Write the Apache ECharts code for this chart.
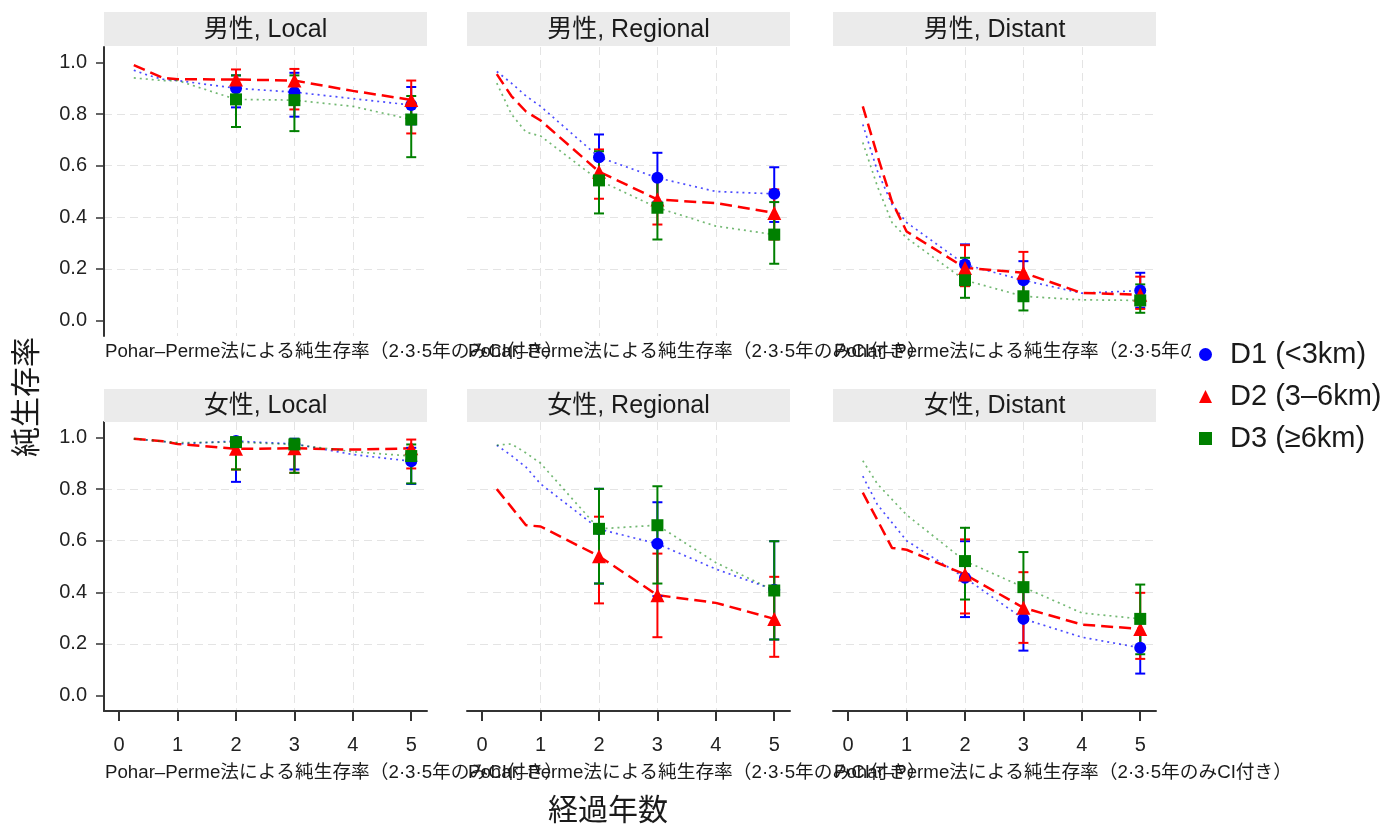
<!DOCTYPE html>
<html><head><meta charset="utf-8">
<script src="https://cdn.jsdelivr.net/npm/echarts@6/dist/echarts.min.js"></script>
<style>html,body{margin:0;padding:0;background:#fff}#c{width:1393px;height:835px}</style>
</head><body><div id="c"></div>
<script>
// ---- data ----
const times = [0.25, 0.5, 0.75, 1, 2, 3, 4, 5];
const ciYears = [2, 3, 5];
const xTicks = [0, 1, 2, 3, 4, 5];
const yTicks = [0, 0.2, 0.4, 0.6, 0.8, 1.0];
const panelTitles = ['男性, Local', '男性, Regional', '男性, Distant', '女性, Local', '女性, Regional', '女性, Distant'];
const groupNames = ['D1 (<3km)', 'D2 (3–6km)', 'D3 (≥6km)'];
const caption = 'Pohar–Perme法による純生存率（2·3·5年のみCI付き）';
const xTitle = '経過年数';
const yTitle = '純生存率';

// 男性, Local
const mLocD1 = [0.97, 0.95, 0.935, 0.93, 0.90, 0.885, 0.86, 0.835];
const mLocD1Lo = [0.826, 0.79, 0.76];
const mLocD1Hi = [0.95, 0.96, 0.905];
const mLocD2 = [0.99, 0.965, 0.94, 0.935, 0.934, 0.93, 0.89, 0.855];
const mLocD2Lo = [0.87, 0.818, 0.725];
const mLocD2Hi = [0.973, 0.975, 0.93];
const mLocD3 = [0.94, 0.935, 0.93, 0.93, 0.857, 0.854, 0.83, 0.779];
const mLocD3Lo = [0.75, 0.734, 0.633];
const mLocD3Hi = [0.95, 0.95, 0.87];
// 男性, Regional
const mRegD1 = [0.965, 0.92, 0.87, 0.83, 0.633, 0.553, 0.50, 0.491];
const mRegD1Lo = [0.55, 0.46, 0.382];
const mRegD1Hi = [0.721, 0.65, 0.594];
const mRegD2 = [0.955, 0.87, 0.81, 0.775, 0.577, 0.469, 0.455, 0.417];
const mRegD2Lo = [0.472, 0.372, 0.314];
const mRegD2Hi = [0.663, 0.56, 0.508];
const mRegD3 = [0.92, 0.80, 0.73, 0.715, 0.543, 0.437, 0.366, 0.333];
const mRegD3Lo = [0.415, 0.314, 0.22];
const mRegD3Hi = [0.656, 0.55, 0.459];
// 男性, Distant
const mDisD1 = [0.76, 0.58, 0.45, 0.38, 0.217, 0.156, 0.106, 0.116];
const mDisD1Lo = [0.14, 0.09, 0.05];
const mDisD1Hi = [0.295, 0.23, 0.185];
const mDisD2 = [0.83, 0.64, 0.46, 0.345, 0.204, 0.185, 0.107, 0.10];
const mDisD2Lo = [0.133, 0.11, 0.045];
const mDisD2Hi = [0.292, 0.266, 0.17];
const mDisD3 = [0.69, 0.52, 0.38, 0.32, 0.156, 0.094, 0.08, 0.078];
const mDisD3Lo = [0.088, 0.039, 0.03];
const mDisD3Hi = [0.243, 0.16, 0.14];
// 女性, Local
const fLocD1 = [0.995, 0.99, 0.985, 0.975, 0.986, 0.975, 0.934, 0.908];
const fLocD1Lo = [0.828, 0.876, 0.82];
const fLocD1Hi = [1.0, 0.995, 0.96];
const fLocD2 = [0.995, 0.99, 0.985, 0.975, 0.956, 0.958, 0.953, 0.958];
const fLocD2Lo = [0.876, 0.863, 0.88];
const fLocD2Hi = [0.99, 0.99, 0.992];
const fLocD3 = [0.995, 0.99, 0.985, 0.98, 0.982, 0.973, 0.945, 0.928];
const fLocD3Lo = [0.876, 0.863, 0.822];
const fLocD3Hi = [1.0, 0.995, 0.973];
// 女性, Regional
const fRegD1 = [0.97, 0.93, 0.885, 0.82, 0.645, 0.588, 0.49, 0.41];
const fRegD1Lo = [0.434, 0.385, 0.217];
const fRegD1Hi = [0.801, 0.749, 0.598];
const fRegD2 = [0.80, 0.73, 0.66, 0.655, 0.54, 0.389, 0.359, 0.297];
const fRegD2Lo = [0.357, 0.226, 0.15];
const fRegD2Hi = [0.693, 0.55, 0.46];
const fRegD3 = [0.97, 0.975, 0.94, 0.90, 0.646, 0.66, 0.515, 0.407];
const fRegD3Lo = [0.434, 0.434, 0.217];
const fRegD3Hi = [0.801, 0.811, 0.598];
// 女性, Distant
const fDisD1 = [0.85, 0.74, 0.67, 0.60, 0.456, 0.297, 0.226, 0.185];
const fDisD1Lo = [0.304, 0.174, 0.085];
const fDisD1Hi = [0.598, 0.42, 0.28];
const fDisD2 = [0.786, 0.68, 0.572, 0.565, 0.469, 0.34, 0.275, 0.258];
const fDisD2Lo = [0.318, 0.204, 0.142];
const fDisD2Hi = [0.605, 0.478, 0.398];
const fDisD3 = [0.91, 0.82, 0.76, 0.70, 0.521, 0.42, 0.32, 0.297];
const fDisD3Lo = [0.372, 0.29, 0.16];
const fDisD3Hi = [0.65, 0.556, 0.43];

const panelLines = [
  [mLocD1, mLocD2, mLocD3], [mRegD1, mRegD2, mRegD3], [mDisD1, mDisD2, mDisD3],
  [fLocD1, fLocD2, fLocD3], [fRegD1, fRegD2, fRegD3], [fDisD1, fDisD2, fDisD3]
];
const panelLo = [
  [mLocD1Lo, mLocD2Lo, mLocD3Lo], [mRegD1Lo, mRegD2Lo, mRegD3Lo], [mDisD1Lo, mDisD2Lo, mDisD3Lo],
  [fLocD1Lo, fLocD2Lo, fLocD3Lo], [fRegD1Lo, fRegD2Lo, fRegD3Lo], [fDisD1Lo, fDisD2Lo, fDisD3Lo]
];
const panelHi = [
  [mLocD1Hi, mLocD2Hi, mLocD3Hi], [mRegD1Hi, mRegD2Hi, mRegD3Hi], [mDisD1Hi, mDisD2Hi, mDisD3Hi],
  [fLocD1Hi, fLocD2Hi, fLocD3Hi], [fRegD1Hi, fRegD2Hi, fRegD3Hi], [fDisD1Hi, fDisD2Hi, fDisD3Hi]
];

// ---- styles / layout ----
const FONT = "'Liberation Sans', 'Noto Sans CJK JP', sans-serif";
const colors = ['#0000ff', '#ff0000', '#008000'];
const symbols = ['circle', 'triangle', 'rect'];
const symbolSizes = [12, 14, 12];
const lineStyles = [
  {color: '#0000ff', width: 1.7, type: [2, 4], opacity: 0.7},
  {color: '#ff0000', width: 2.5, type: [12, 6], opacity: 1},
  {color: '#008000', width: 1.7, type: [2, 4], opacity: 0.55}
];
const gridLefts = [104, 467, 833];
const gridTops = [47, 422];
const gridW = 323, gridH = 289;
const stripTops = [12, 389];
const stripHs = [34, 33];
const captionYs = [352, 773];

function errRender(color) {
  return function (params, api) {
    const x = api.value(0);
    const a = api.coord([x, api.value(1)]);
    const b = api.coord([x, api.value(2)]);
    const w = 5;
    const st = {stroke: color, lineWidth: 2};
    return {type: 'group', children: [
      {type: 'line', shape: {x1: a[0], y1: a[1], x2: b[0], y2: b[1]}, style: st},
      {type: 'line', shape: {x1: a[0] - w, y1: a[1], x2: a[0] + w, y2: a[1]}, style: st},
      {type: 'line', shape: {x1: b[0] - w, y1: b[1], x2: b[0] + w, y2: b[1]}, style: st}
    ]};
  };
}

const grids = [], xAxes = [], yAxes = [], series = [], graphics = [];
const splitStyle = {color: '#e4e4e4', type: [8, 5], width: 1};

for (let i = 0; i < 6; i++) {
  const row = Math.floor(i / 3), col = i % 3;
  const left = gridLefts[col], top = gridTops[row];
  grids.push({left: left, top: top, width: gridW, height: gridH, containLabel: false});
  xAxes.push({
    type: 'value', gridIndex: i, min: -0.26, max: 5.27,
    axisLine: {show: row === 1, onZero: false, lineStyle: {color: '#333', width: 2}},
    axisTick: {show: row === 1, customValues: xTicks, length: 10, lineStyle: {color: '#333', width: 2}},
    axisLabel: {show: row === 1, customValues: xTicks, margin: 24, fontSize: 20, color: '#222', fontFamily: FONT},
    splitLine: {show: true, showMinLine: false, showMaxLine: false, lineStyle: splitStyle}
  });
  yAxes.push({
    type: 'value', gridIndex: i, min: -0.06, max: 1.06,
    axisLine: {show: col === 0, onZero: false, lineStyle: {color: '#333', width: 2}},
    axisTick: {show: col === 0, customValues: yTicks, length: 8, lineStyle: {color: '#333', width: 1.5}},
    axisLabel: {show: col === 0, customValues: yTicks, margin: 17, fontSize: 20, color: '#222', fontFamily: FONT,
      formatter: v => v.toFixed(1)},
    splitLine: {show: true, showMinLine: false, showMaxLine: false, lineStyle: splitStyle}
  });
  for (let g = 0; g < 3; g++) {
    const vals = panelLines[i][g];
    series.push({
      type: 'line', name: '_line' + g, xAxisIndex: i, yAxisIndex: i, z: 2,
      data: times.map((t, k) => [t, vals[k]]),
      showSymbol: false, symbol: 'none', silent: true,
      lineStyle: lineStyles[g]
    });
  }
  for (let g = 0; g < 3; g++) {
    series.push({
      type: 'custom', name: '_err' + g, xAxisIndex: i, yAxisIndex: i, z: 3, silent: true,
      renderItem: errRender(colors[g]),
      encode: {x: 0, y: [1, 2]},
      data: ciYears.map((t, k) => [t, panelLo[i][g][k], panelHi[i][g][k]])
    });
  }
  for (let g = 0; g < 3; g++) {
    const vals = panelLines[i][g];
    series.push({
      type: 'scatter', name: groupNames[g], xAxisIndex: i, yAxisIndex: i, z: 4,
      symbol: symbols[g], symbolSize: symbolSizes[g],
      itemStyle: {color: colors[g], opacity: 1},
      data: ciYears.map(t => [t, vals[times.indexOf(t)]])
    });
  }
  // strip
  graphics.push({type: 'rect', shape: {x: left, y: stripTops[row], width: gridW, height: stripHs[row]},
    style: {fill: '#ebebeb'}, z: 1});
  graphics.push({type: 'text', x: left + gridW / 2, y: stripTops[row] + stripHs[row] / 2 + 1, z: 2,
    style: {text: panelTitles[i], fontSize: 25, fontFamily: FONT, fill: '#1a1a1a',
      align: 'center', verticalAlign: 'middle', textAlign: 'center', textVerticalAlign: 'middle'}});
  // caption
  graphics.push({type: 'text', x: left + 1, y: captionYs[row], z: 2,
    style: {text: caption, fontSize: 18.7, fontFamily: FONT, fill: '#1a1a1a',
      align: 'left', verticalAlign: 'middle', textAlign: 'left', textVerticalAlign: 'middle'}});
}
graphics.push({type: 'text', x: 608, y: 812, z: 2,
  style: {text: xTitle, fontSize: 30, fontFamily: FONT, fill: '#1a1a1a',
    align: 'center', verticalAlign: 'middle', textAlign: 'center', textVerticalAlign: 'middle'}});
graphics.push({type: 'text', x: 28, y: 397, rotation: Math.PI / 2, z: 2,
  style: {text: yTitle, fontSize: 30, fontFamily: FONT, fill: '#1a1a1a',
    align: 'center', verticalAlign: 'middle', textAlign: 'center', textVerticalAlign: 'middle'}});

const chart = echarts.init(document.getElementById('c'), null, {renderer: 'canvas'});
chart.setOption({
  animation: false,
  backgroundColor: '#ffffff',
  textStyle: {fontFamily: FONT},
  grid: grids, xAxis: xAxes, yAxis: yAxes, series: series,
  legend: {
    orient: 'vertical', left: 1191, top: 335, itemWidth: 13, itemHeight: 13, itemGap: 13,
    padding: [5, 4, 5, 8], backgroundColor: '#ffffff', z: 50,
    selectedMode: false,
    textStyle: {fontSize: 29, color: '#1a1a1a', fontFamily: FONT, padding: [0, 0, 0, 13]},
    data: groupNames.map((n, g) => ({name: n, icon: symbols[g]}))
  },
  graphic: graphics
});
</script>
</body></html>
